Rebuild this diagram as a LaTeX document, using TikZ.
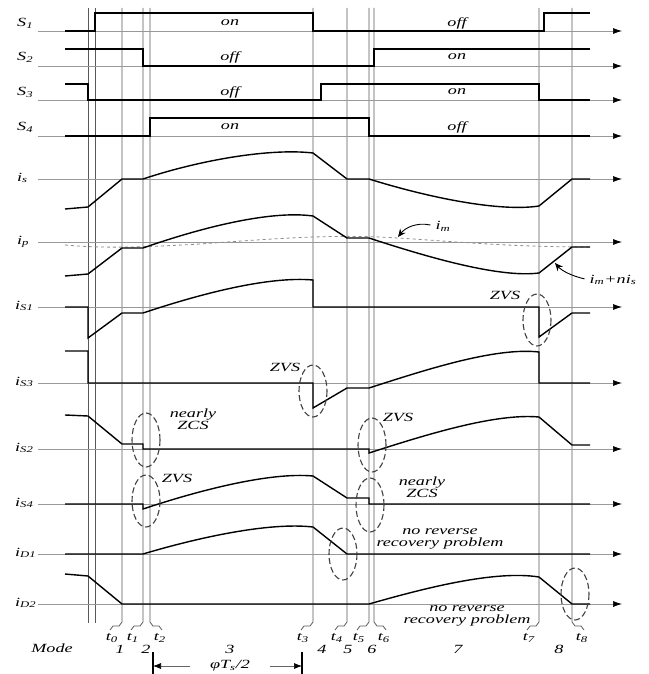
\documentclass[tikz,border=0pt]{standalone}
\usepackage{fontspec}
\setmainfont{Liberation Serif}
\usetikzlibrary{arrows.meta}
\newcommand{\wtxt}[1]{\scalebox{1.45}[1]{#1}}

\begin{document}
\begin{tikzpicture}[x=1pt, y=-1pt,
    wave/.style={line width=1.4pt},
    axis/.style={line width=0.7pt, black!40, -{Latex[length=9pt,width=6pt,color=black]}},
    grid/.style={line width=0.8pt, black!65},
    zone/.style={line width=1.1pt, black!75, dash pattern=on 6pt off 3pt},
    ptr/.style={line width=0.9pt, -{Stealth[length=8pt,width=7pt]}},
    lbl/.style={font=\fontsize{12.5}{13.5}\selectfont\itshape, inner sep=0pt},
    ]
    \useasboundingbox (0,0) rectangle (648,674);

    % time lines
    \foreach \x in {88,95} \draw[grid] (\x,8) -- (\x,623);
    \foreach \x/\d/\n in {122/-1/0,143/-1/1,150/1/2,313/-1/3,347/-1/4,369/-1/5,374/1/6,539/-1/7,572/1/8} {
      \draw[grid] (\x,8) -- (\x,622) -- ++(3*\d,4) -- ++(6*\d,0) -- ++(3*\d,4);
      \node[lbl] (t\n) at (\x+10*\d,638) {\wtxt{t\textsubscript{\n}}};
    }

    % axes
    \foreach \y in {31,66,100,136,179,242,307,383,449,504,554,604}
      \draw[axis] (38,\y) -- (622,\y);

    % names
    \node[lbl, anchor=base west] (nS1) at (17,27) {\wtxt{S\textsubscript{1}}};
    \node[lbl, anchor=base west] (nS2) at (17,61) {\wtxt{S\textsubscript{2}}};
    \node[lbl, anchor=base west] (nS3) at (17,96) {\wtxt{S\textsubscript{3}}};
    \node[lbl, anchor=base west] (nS4) at (17,131) {\wtxt{S\textsubscript{4}}};
    \node[lbl, anchor=base west] (nis) at (17,181) {\wtxt{i\textsubscript{s}}};
    \node[lbl, anchor=base west] (nip) at (17,244) {\wtxt{i\textsubscript{p}}};
    \node[lbl, anchor=base west] (niS1) at (15,309) {\wtxt{i\textsubscript{S1}}};
    \node[lbl, anchor=base west] (niS3) at (15,385) {\wtxt{i\textsubscript{S3}}};
    \node[lbl, anchor=base west] (niS2) at (15,451) {\wtxt{i\textsubscript{S2}}};
    \node[lbl, anchor=base west] (niS4) at (15,506) {\wtxt{i\textsubscript{S4}}};
    \node[lbl, anchor=base west] (niD1) at (15,556) {\wtxt{i\textsubscript{D1}}};
    \node[lbl, anchor=base west] (niD2) at (15,606) {\wtxt{i\textsubscript{D2}}};

    % gate signals
    \draw[wave] (65,31) -- (95,31) -- (95,13) -- (313,13) -- (313,31) -- (544,31) -- (544,13) -- (590,13);
    \draw[wave] (65,49) -- (143,49) -- (143,66) -- (374,66) -- (374,49) -- (590,49);
    \draw[wave] (65,84) -- (88,84) -- (88,100) -- (321,100) -- (321,84) -- (539,84) -- (539,100) -- (590,100);
    \draw[wave] (65,136) -- (150,136) -- (150,118) -- (369,118) -- (369,136) -- (590,136);
    \foreach \y/\a/\b in {23/on/off,57/off/on,92/off/on,127/on/off} {
      \node[lbl] at (230,\y) {\wtxt{\a}};
      \node[lbl] at (457,\y) {\wtxt{\b}};
    }

    % currents
    \draw[wave] (65,209) -- (88,207) -- (122,179) -- (143,179)
      .. controls (200,160) and (270,148) .. (313,153) -- (347,179) -- (369,179)
      .. controls (430,198) and (500,212) .. (539,206) -- (572,179) -- (590,179);
    \draw[black!45, line width=0.8pt, dashed] (65,245) .. controls (100,248) and (130,248) .. (200,244)
      .. controls (280,238) and (330,235) .. (380,237) .. controls (440,240) and (500,247) .. (590,247);
    \draw[wave] (65,276) -- (88,274) -- (122,248) -- (143,248)
      .. controls (200,228) and (270,210) .. (313,216) -- (347,238) -- (369,238)
      .. controls (430,258) and (500,278) .. (539,273) -- (572,247) -- (590,247);
    \draw[wave] (65,307) -- (88,307) -- (88,338) -- (122,313) -- (143,313)
      .. controls (200,294) and (268,276) .. (313,280) -- (313,307) -- (539,307)
      -- (539,337) -- (572,313) -- (590,313);
    \draw[wave] (65,351) -- (88,351) -- (88,383) -- (313,383) -- (313,408) -- (347,388) -- (369,388)
      .. controls (425,370) and (495,347) .. (539,352) -- (539,383) -- (590,383);
    \draw[wave] (65,415) -- (88,416) -- (122,444) -- (143,444) -- (143,449) -- (369,449) -- (369,453)
      .. controls (425,435) and (495,413) .. (539,417) -- (572,445) -- (590,445);
    \draw[wave] (65,504) -- (143,504) -- (143,509)
      .. controls (200,490) and (270,472) .. (313,476) -- (347,498) -- (369,498) -- (369,504) -- (590,504);
    \draw[wave] (65,554) -- (143,554)
      .. controls (200,537) and (270,522) .. (313,527) -- (347,554) -- (590,554);
    \draw[wave] (65,574) -- (88,576) -- (122,604) -- (369,604)
      .. controls (425,588) and (495,570) .. (539,577) -- (572,604) -- (590,604);

    % i_m and i_m+ni_s
    \node[lbl] (im) at (443,226) {\wtxt{i\textsubscript{m}}};
    \coordinate (imtip) at (398,237);
    \draw[ptr, shorten <=5pt] (im.west) .. controls (416,222) and (405,228) .. (imtip);
    \node[lbl] (imn) at (613,280) {\wtxt{i\textsubscript{m}+ni\textsubscript{s}}};
    \coordinate (imntip) at (555,263);
    \draw[ptr, shorten <=5pt] (imn.west) .. controls (572,276) and (562,271) .. (imntip);

    % soft switching marks
    \foreach \x/\y/\ry in {537/320/26,313/391/26,146/440/27,372/445/27,146/501/26,370/505/27,343/554/26,575/594/26}
      \draw[zone] (\x,\y) ellipse [x radius=14, y radius=\ry];
    \node[lbl] (z1) at (505,295) {\wtxt{ZVS}};
    \node[lbl] (z2) at (285,367) {\wtxt{ZVS}};
    \node[lbl, align=center] (z3) at (193,419) {\wtxt{nearly}\\[-1pt]\wtxt{ZCS}};
    \node[lbl] (z4) at (398,417) {\wtxt{ZVS}};
    \node[lbl] (z5) at (177,478) {\wtxt{ZVS}};
    \node[lbl, align=center] (z6) at (422,487) {\wtxt{nearly}\\[-1pt]\wtxt{ZCS}};
    \node[lbl, align=center] (z7) at (440,539) {\wtxt{no reverse}\\[-1pt]\wtxt{recovery problem}};
    \node[lbl, align=center] (z8) at (467,616) {\wtxt{no reverse}\\[-1pt]\wtxt{recovery problem}};

    % modes
    \node[lbl] (mode) at (52,648) {\wtxt{Mode}};
    \foreach \x/\m in {120/1,146/2,230/3,322/4,348/5,372/6,458/7,559/8}
      \node[lbl] (m\m) at (\x,649) {\wtxt{\m}};

    % phase shift
    \node[lbl] (phi) at (230,666) {\wtxt{φT\textsubscript{s}/2}};
    \draw[line width=1.1pt] (153,652) -- (153,674);
    \draw[line width=1.1pt] (302,652) -- (302,674);
    \coordinate (pl) at (153,666);
    \coordinate (pr) at (302,666);
    \draw[line width=0.6pt, black!60, -{Latex[length=8pt,width=6pt,color=black]}, shorten <=20pt] (phi.west) -- (pl);
    \draw[line width=0.6pt, black!60, -{Latex[length=8pt,width=6pt,color=black]}, shorten <=20pt] (phi.east) -- (pr);
  \end{tikzpicture}
\end{document}
